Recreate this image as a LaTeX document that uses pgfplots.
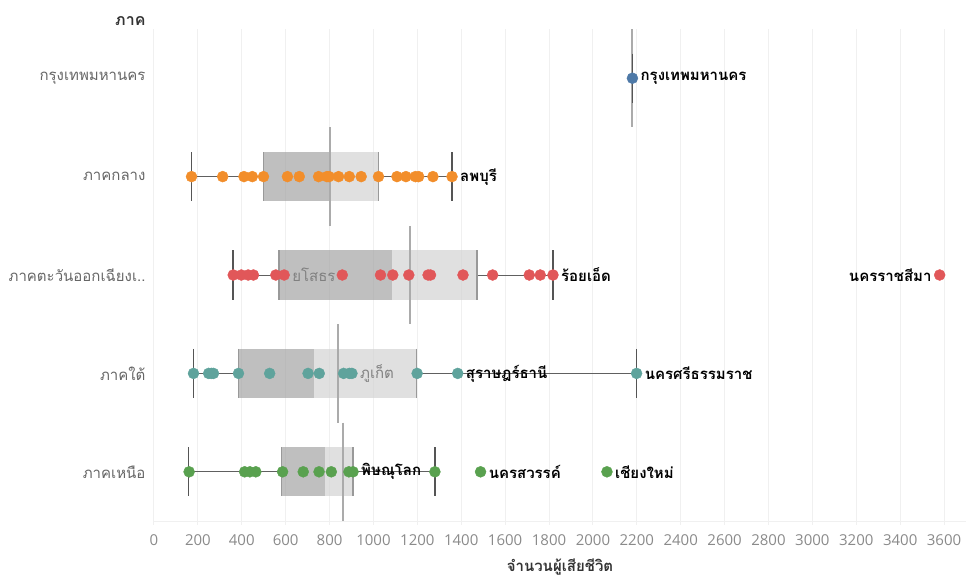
\documentclass[border=0pt]{standalone}
\usepackage{fontspec}
\setmainfont{Open Sans}
\newfontfamily\thai[Script=Thai]{Loma}
\usepackage{pgfplots}
\pgfplotsset{compat=1.18}
\definecolor{cB}{HTML}{4E79A7}
\definecolor{cC}{HTML}{F28E2B}
\definecolor{cN}{HTML}{E15759}
\definecolor{cS}{HTML}{5FA39C}
\definecolor{cG}{HTML}{59A14F}
\definecolor{gridc}{HTML}{F0F0F0}
\definecolor{boxd}{HTML}{A6A6A6}
\definecolor{boxl}{HTML}{D4D4D4}
\definecolor{capc}{HTML}{555555}
\definecolor{refc}{HTML}{ABABAB}
\definecolor{tickc}{HTML}{8A8A8A}
\definecolor{ylabc}{HTML}{666666}
\tikzset{
  lab/.style={font=\thai\bfseries\fontsize{15}{18}\selectfont, text=black, inner sep=2pt},
  glab/.style={font=\thai\fontsize{15}{18}\selectfont, text=gray, inner sep=2pt},
  cat/.style={font=\thai\fontsize{15}{18}\selectfont, text=ylabc, anchor=east, xshift=-5pt},
}
\begin{document}
\begin{tikzpicture}
\useasboundingbox (-154pt,-57pt) rectangle (812pt,521pt);
\begin{axis}[
  at={(0,0)}, anchor=south west,
  scale only axis, width=812pt, height=492pt,
  xmin=0, xmax=3700, ymin=-0.5, ymax=4.5, y dir=reverse,
  axis x line*=bottom, axis y line=none,
  x axis line style={draw=gridc, line width=1pt, -},
  xtick={0,200,...,3600},
  tick align=outside, major tick length=4pt,
  x tick style={draw=gridc, line width=1pt},
  xmajorgrids, grid style={draw=gridc, line width=1pt},
  xticklabel style={font=\fontsize{15}{18}\selectfont, text=tickc, yshift=-6pt},
  /pgf/number format/.cd, 1000 sep={}, assume math mode=true,
  /pgfplots/.cd,
  clip=false,
  wh/.style={draw=gray!75!black, line width=1pt},
  cap/.style={draw=capc, line width=1.6pt},
  edge/.style={draw=gray!80, line width=1.2pt},
  refl/.style={draw=refc, line width=2pt},
  bd/.style={fill=boxd, fill opacity=0.72, draw=none},
  bl/.style={fill=boxl, fill opacity=0.72, draw=none},
  pt/.style={only marks, mark=*, mark size=5.5pt, color=#1},
]
% ---- Bangkok (row 0)
\addplot[pt=cB] coordinates {(2180,0)};
\addplot[refl] coordinates {(2180,-0.5) (2180,0.5)};
\addplot[cap] coordinates {(2180,-0.25) (2180,0.25)};
% ---- Central (row 1)
\addplot[wh] coordinates {(171,1) (499,1)};
\addplot[wh] coordinates {(1023,1) (1358,1)};
\addplot[pt=cC] coordinates {(171,1) (313,1) (410,1) (448,1) (499,1) (608,1) (662,1) (750,1) (788,1) (798,1) (841,1) (890,1) (944,1) (1023,1) (1107,1) (1148,1) (1191,1) (1206,1) (1271,1) (1358,1)};
\addplot[bd] coordinates {(499,0.75) (800,0.75) (800,1.25) (499,1.25)};
\addplot[bl] coordinates {(800,0.75) (1023,0.75) (1023,1.25) (800,1.25)};
\addplot[edge] coordinates {(499,0.75) (499,1.25)};
\addplot[edge] coordinates {(1023,0.75) (1023,1.25)};
\addplot[cap] coordinates {(171,0.75) (171,1.25)};
\addplot[cap] coordinates {(1358,0.75) (1358,1.25)};
\addplot[refl] coordinates {(800,0.5) (800,1.5)};
% ---- North-East (row 2)
\addplot[wh] coordinates {(361,2) (570,2)};
\addplot[wh] coordinates {(1472,2) (1818,2)};
\addplot[pt=cN] coordinates {(361,2) (398,2) (429,2) (453,2) (555,2) (593,2) (858,2) (1032,2) (1088,2) (1161,2) (1249,2) (1260,2) (1408,2) (1543,2) (1710,2) (1760,2) (1818,2) (3580,2)};
\addplot[bd] coordinates {(570,1.75) (1085,1.75) (1085,2.25) (570,2.25)};
\addplot[bl] coordinates {(1085,1.75) (1472,1.75) (1472,2.25) (1085,2.25)};
\addplot[edge] coordinates {(570,1.75) (570,2.25)};
\addplot[edge] coordinates {(1472,1.75) (1472,2.25)};
\addplot[cap] coordinates {(361,1.75) (361,2.25)};
\addplot[cap] coordinates {(1818,1.75) (1818,2.25)};
\addplot[refl] coordinates {(1168,1.5) (1168,2.5)};
% ---- South (row 3)
\addplot[wh] coordinates {(180,3) (385,3)};
\addplot[wh] coordinates {(1196,3) (2199,3)};
\addplot[pt=cS] coordinates {(180,3) (249,3) (261,3) (271,3) (385,3) (527,3) (702,3) (753,3) (864,3) (890,3) (902,3) (1199,3) (1384,3) (2199,3)};
\addplot[bd] coordinates {(385,2.75) (727,2.75) (727,3.25) (385,3.25)};
\addplot[bl] coordinates {(727,2.75) (1196,2.75) (1196,3.25) (727,3.25)};
\addplot[edge] coordinates {(385,2.75) (385,3.25)};
\addplot[edge] coordinates {(1196,2.75) (1196,3.25)};
\addplot[cap] coordinates {(180,2.75) (180,3.25)};
\addplot[cap] coordinates {(2199,2.75) (2199,3.25)};
\addplot[refl] coordinates {(840,2.5) (840,3.5)};
% ---- North (row 4)
\addplot[wh] coordinates {(158,4) (581,4)};
\addplot[wh] coordinates {(907,4) (1280,4)};
\addplot[pt=cG] coordinates {(160,4) (413,4) (437,4) (464,4) (586,4) (680,4) (752,4) (808,4) (888,4) (907,4) (1280,4) (1488,4) (2064,4)};
\addplot[bd] coordinates {(581,3.75) (779,3.75) (779,4.25) (581,4.25)};
\addplot[bl] coordinates {(779,3.75) (907,3.75) (907,4.25) (779,4.25)};
\addplot[edge] coordinates {(581,3.75) (581,4.25)};
\addplot[edge] coordinates {(907,3.75) (907,4.25)};
\addplot[cap] coordinates {(158,3.75) (158,4.25)};
\addplot[cap] coordinates {(1280,3.75) (1280,4.25)};
\addplot[refl] coordinates {(862,3.5) (862,4.5)};
% ---- labels
\node[lab, anchor=west, xshift=6pt] at (axis cs:2180,0) {กรุงเทพมหานคร};
\node[lab, anchor=west, xshift=6pt] at (axis cs:1358,1) {ลพบุรี};
\node[glab, anchor=west, xshift=6pt] at (axis cs:593,2) {ยโสธร};
\node[lab, anchor=west, xshift=6pt] at (axis cs:1818,2) {ร้อยเอ็ด};
\node[lab, anchor=east, xshift=-6pt] at (axis cs:3580,2) {นครราชสีมา};
\node[glab, anchor=west, xshift=6pt] at (axis cs:902,3) {ภูเก็ต};
\node[lab, anchor=west, xshift=6pt] at (axis cs:1384,3) {สุราษฎร์ธานี};
\node[lab, anchor=west, xshift=6pt] at (axis cs:2199,3) {นครศรีธรรมราช};
\node[lab, anchor=west, xshift=6pt] at (axis cs:907,4) {พิษณุโลก};
\node[lab, anchor=west, xshift=6pt] at (axis cs:1488,4) {นครสวรรค์};
\node[lab, anchor=west, xshift=6pt] at (axis cs:2064,4) {เชียงใหม่};
% ---- category labels
\node[cat] at (axis cs:0,0) {กรุงเทพมหานคร};
\node[cat] at (axis cs:0,1) {ภาคกลาง};
\node[cat] at (axis cs:0,2) {ภาคตะวันออกเฉียงเ..};
\node[cat] at (axis cs:0,3) {ภาคใต้};
\node[cat] at (axis cs:0,4) {ภาคเหนือ};
\end{axis}
\node[font=\thai\bfseries\fontsize{16}{19}\selectfont, text=black!80, anchor=east] at (-5pt,500pt) {ภาค};
\node[font=\thai\bfseries\fontsize{15}{18}\selectfont, text=black!80] at (406pt,-46pt) {จำนวนผู้เสียชีวิต};
\end{tikzpicture}
\end{document}
